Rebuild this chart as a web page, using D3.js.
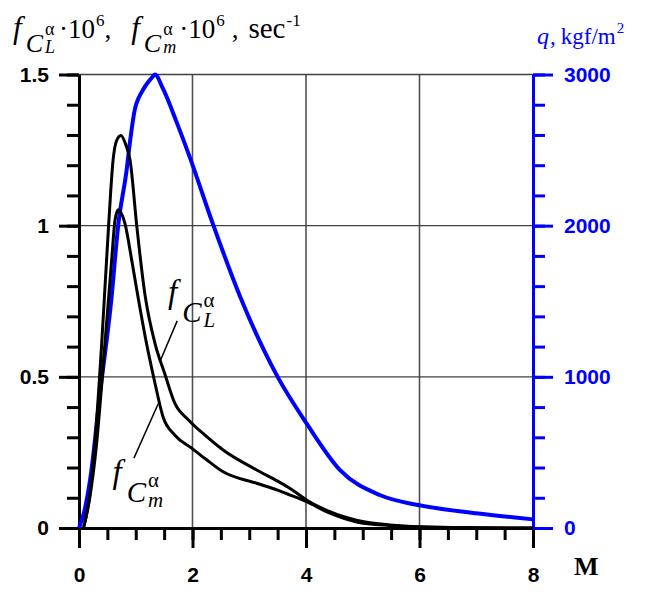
<!DOCTYPE html>
<html>
<head>
<meta charset="utf-8">
<script src="https://cdn.jsdelivr.net/npm/d3@7"></script>
<style>
	body { margin:0; background:#ffffff; }
	svg { display:block; }
	.serif { font-family:'Liberation Serif','Times New Roman',serif; }
	.tick text { font-family:'Liberation Sans',Arial,sans-serif; font-weight:bold; font-size:21px; }
</style>
</head>
<body>
<div id="chart"></div>
<script>
// -----------------------------------------------------------------
// Data
// Mach number / f_CL^alpha * 1e6
var clMach = [0.08,0.19,0.28,0.40,0.52,0.60,0.66,0.74,0.82,0.90,1.02,1.16,1.34,1.51,1.69,1.93,2.22,2.54,3.13,3.50,3.72,4.01,4.42,4.89,5.48,6.0,7.0,8.0];
var clValue = [0,0.11,0.28,0.61,0.995,1.216,1.28,1.298,1.27,1.216,0.995,0.775,0.61,0.511,0.412,0.357,0.307,0.258,0.192,0.155,0.131,0.0925,0.054,0.026,0.010,0.004,0.001,0];

// Mach number / f_Cm^alpha * 1e6
var cmMach = [0.08,0.19,0.30,0.457,0.575,0.634,0.69,0.81,0.93,1.04,1.19,1.34,1.48,1.69,1.98,2.22,2.54,3.13,3.50,3.72,4.01,4.42,4.89,5.48,6.0,7.0,8.0];
var cmValue = [0,0.10,0.26,0.61,0.885,1.017,1.053,1.007,0.885,0.764,0.61,0.478,0.368,0.307,0.265,0.23,0.186,0.148,0.125,0.109,0.087,0.049,0.020,0.008,0.003,0.001,0];

// Mach number / dynamic pressure q, kgf/m2
var qMach = [0,0.10,0.20,0.37,0.575,0.69,0.84,0.898,0.986,1.044,1.13,1.22,1.296,1.338,1.48,1.72,1.95,2.37,2.84,3.51,4.01,4.60,5.30,6.0,6.53,7.0,8.0];
var qValue = [0,120,330,890,1530,2000,2370,2553,2773,2839,2900,2950,2985,3000,2906,2685,2455,2000,1530,993,692,383,218,150,119,97,57];

// Tick values
var xMajorTicks = [0,2,4,6,8];
var xMinorTicks = d3.range(0,8.001,0.5);
var yLeftMajorTicks = [0,0.5,1,1.5];
var yLeftMinorTicks = d3.range(0,1.5001,0.1);
var yRightMajorTicks = [0,1000,2000,3000];
var yRightMinorTicks = d3.range(0,3001,200);
var xGrid = [2,4,6];
var yGrid = [0.5,1,1.5];

// -----------------------------------------------------------------
var width = 646, height = 592;
var margin = { left:79, right:113, top:74.5, bottom:64 };

var svg = d3.select('#chart').append('svg')
	.attr('width',width)
	.attr('height',height);

var x = d3.scaleLinear().domain([0,8]).range([margin.left, width-margin.right]);
var yL = d3.scaleLinear().domain([0,1.5]).range([height-margin.bottom, margin.top]);
var yR = d3.scaleLinear().domain([0,3000]).range([height-margin.bottom, margin.top]);

var blue = '#0000ff';

// Grid
var grid = svg.append('g').attr('class','grid');
grid.selectAll('line.v').data(xGrid).enter().append('line')
	.attr('class','v')
	.attr('x1',function(d){ return x(d); })
	.attr('x2',function(d){ return x(d); })
	.attr('y1',yL(0))
	.attr('y2',yL(1.5))
	.attr('stroke','#505050')
	.attr('stroke-width',1.6);
grid.selectAll('line.h').data(yGrid).enter().append('line')
	.attr('class','h')
	.attr('x1',x(0))
	.attr('x2',x(8))
	.attr('y1',function(d){ return yL(d); })
	.attr('y2',function(d){ return yL(d); })
	.attr('stroke','#404040')
	.attr('stroke-width',1.4);

// Axes
function styleAxis(g, color){
	g.selectAll('path.domain').attr('stroke',color).attr('stroke-width',3);
	g.selectAll('.tick line').attr('stroke',color).attr('stroke-width',3);
	g.selectAll('.tick text').attr('fill',color);
};

var gxMinor = svg.append('g')
	.attr('transform','translate(0,'+yL(0)+')')
	.call(d3.axisBottom(x).tickValues(xMinorTicks).tickSize(12).tickSizeOuter(0).tickFormat(''));
styleAxis(gxMinor,'#000');
var gxMajor = svg.append('g')
	.attr('transform','translate(0,'+yL(0)+')')
	.call(d3.axisBottom(x).tickValues(xMajorTicks).tickSize(20).tickSizeOuter(0).tickPadding(19).tickFormat(d3.format('d')));
styleAxis(gxMajor,'#000');

var gyMinor = svg.append('g')
	.attr('transform','translate('+x(0)+',0)')
	.call(d3.axisLeft(yL).tickValues(yLeftMinorTicks).tickSize(12).tickSizeOuter(0).tickFormat(''));
styleAxis(gyMinor,'#000');
var gyMajor = svg.append('g')
	.attr('transform','translate('+x(0)+',0)')
	.call(d3.axisLeft(yL).tickValues(yLeftMajorTicks).tickSize(20).tickSizeOuter(0).tickPadding(10).tickFormat(function(d){ return String(d); }));
styleAxis(gyMajor,'#000');

var grMinor = svg.append('g')
	.attr('transform','translate('+x(8)+',0)')
	.call(d3.axisRight(yR).tickValues(yRightMinorTicks).tickSize(12).tickSizeOuter(0).tickFormat(''));
styleAxis(grMinor,blue);
var grMajor = svg.append('g')
	.attr('transform','translate('+x(8)+',0)')
	.call(d3.axisRight(yR).tickValues(yRightMajorTicks).tickSize(20).tickSizeOuter(0).tickPadding(11).tickFormat(d3.format('d')));
styleAxis(grMajor,blue);

// Curves
var lineL = d3.line()
	.x(function(d){ return x(d[0]); })
	.y(function(d){ return yL(d[1]); })
	.curve(d3.curveMonotoneX);
var lineR = d3.line()
	.x(function(d){ return x(d[0]); })
	.y(function(d){ return yR(d[1]); })
	.curve(d3.curveMonotoneX);

svg.append('path')
	.datum(d3.zip(qMach,qValue))
	.attr('d',lineR)
	.attr('fill','none')
	.attr('stroke',blue)
	.attr('stroke-width',4)
	.attr('stroke-linejoin','round');

svg.append('path')
	.datum(d3.zip(cmMach,cmValue))
	.attr('d',lineL)
	.attr('fill','none')
	.attr('stroke','#000')
	.attr('stroke-width',3)
	.attr('stroke-linejoin','round');

svg.append('path')
	.datum(d3.zip(clMach,clValue))
	.attr('d',lineL)
	.attr('fill','none')
	.attr('stroke','#000')
	.attr('stroke-width',3)
	.attr('stroke-linejoin','round');

// -----------------------------------------------------------------
// One text element, its pieces laid out as tspans one after the other.
// Each piece is [text, size, dy from baseline, italic, gap before, stacked]
// A stacked piece starts at the same x as the piece before it.
function flow(g, x0, y0, pieces){
	var t = g.append('text');
	var cx = x0, lastX = x0, lastW = 0;
	pieces.forEach(function(p){
		var px = p[5] ? lastX : cx + (p[4] || 0);
		var s = t.append('tspan')
			.attr('x',px)
			.attr('y',y0 + p[2])
			.attr('font-size',p[1])
			.attr('font-style',p[3] ? 'italic' : 'normal')
			.text(p[0]);
		var w = s.node().getComputedTextLength();
		if( p[5] ){
			cx = Math.max(cx, px + w);
		} else {
			lastX = px;
			cx = px + w;
		};
	});
	return t;
};

// Curve labels with leader lines (in data units)
var curveLabels = [
	{ sub:'L', at:[1.57,0.745], from:[1.73,0.685], to:[1.425,0.55] }
	,{ sub:'m', at:[0.59,0.15], from:[0.968,0.231], to:[1.396,0.411] }
];

curveLabels.forEach(function(c){
	svg.append('line')
		.attr('x1',x(c.from[0])).attr('y1',yL(c.from[1]))
		.attr('x2',x(c.to[0])).attr('y2',yL(c.to[1]))
		.attr('stroke','#000')
		.attr('stroke-width',1.5);

	var g = svg.append('g').attr('class','serif');
	flow(g, x(c.at[0]), yL(c.at[1]), [
		['f',33,0,true,0]
		,['C',29,19,true,5]
		,['α',21,4,false,2]
		,[c.sub,21,24,true,0,true]
	]);
});

// Axis titles
var tl = svg.append('g').attr('class','serif').attr('fill','#000');
flow(tl, 13, 38, [
	['f',31,0,true,0]
	,['C',26,14,true,4]
	,['α',18,-3,false,2]
	,['L',18,15,true,0,true]
	,['·10',27,0,false,4]
	,['6',17,-12,false,1]
	,[',',27,0,false,0]
	,['f',31,0,true,20]
	,['C',26,14,true,4]
	,['α',18,-3,false,2]
	,['m',18,15,true,0,true]
	,['·10',27,0,false,3]
	,['6',17,-12,false,1]
	,[',',27,0,false,7]
	,['sec',29,0,false,10]
	,['-1',17,-12,false,1]
]);

var tr = svg.append('g').attr('class','serif').attr('fill',blue);
flow(tr, 537, 44, [
	['q',24,0,true,0]
	,[',',23,0,false,1]
	,['kgf/m',23,0,false,5]
	,['2',15,-11,false,1]
]);

svg.append('text')
	.attr('class','serif')
	.attr('x',574)
	.attr('y',575)
	.attr('font-size',26)
	.attr('font-weight','bold')
	.text('M');
</script>
</body>
</html>
